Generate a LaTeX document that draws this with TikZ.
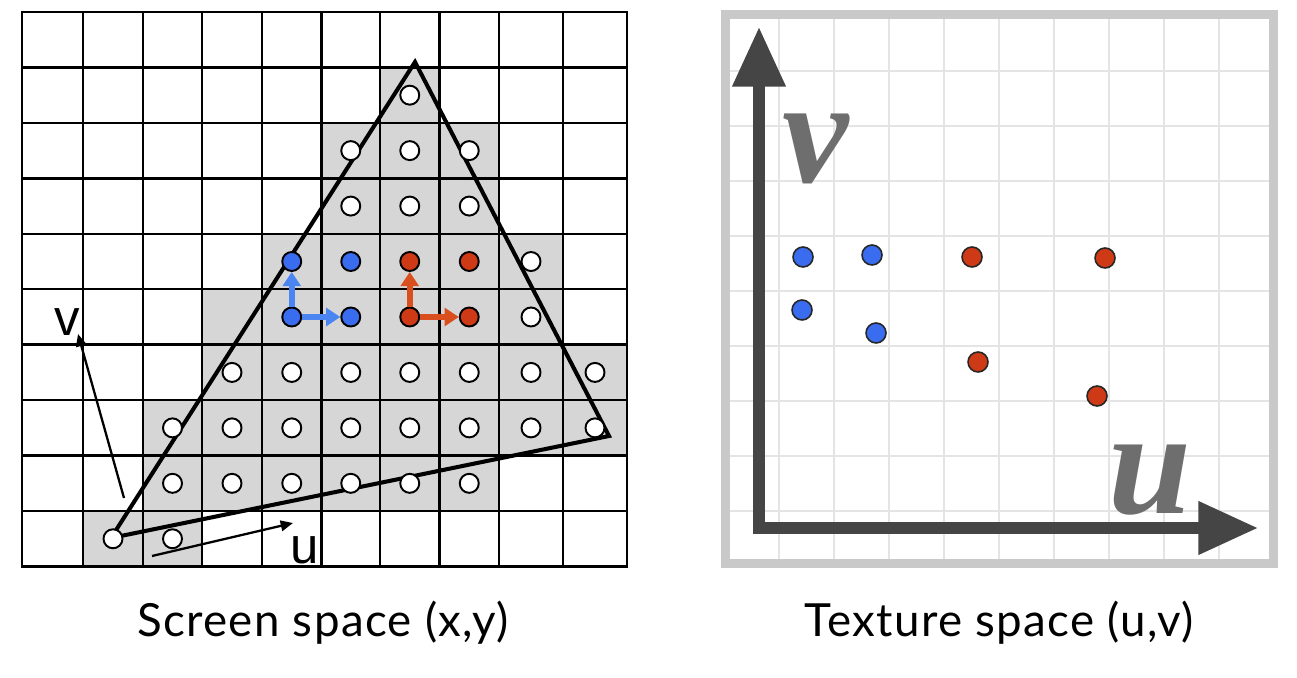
\documentclass[tikz,border=0pt]{standalone}
\usepackage{fontspec}
\newfontfamily\capfont{Lato}[LetterSpace=3]
\newfontfamily\markfont{Liberation Sans}
\newfontfamily\axisfont{Liberation Serif}
\usetikzlibrary{arrows.meta}
\definecolor{cellgray}{HTML}{D6D6D6}
\definecolor{dotblue}{HTML}{3A6CF0}
\definecolor{dotred}{HTML}{CF3A16}
\definecolor{arrowblue}{HTML}{4A85F2}
\definecolor{arrowred}{HTML}{D9501E}
\definecolor{axisgray}{HTML}{454545}
\definecolor{lettergray}{HTML}{6E6E6E}
\definecolor{framegray}{HTML}{C9C9C9}
\definecolor{finegray}{HTML}{E4E4E4}

\begin{document}
\begin{tikzpicture}[x=0.02cm, y=-0.02cm,
    gridline/.style={line width=1.4pt, line cap=rect},
    edge/.style={line width=2.3pt},
    vec/.style={line width=1.3pt, -{Triangle[length=7pt,width=6pt]}},
    flow/.style={line width=3.2pt, -{Triangle[length=8pt,width=10pt]}},
    sample/.style={circle, draw=black, line width=1.1pt, fill=white, minimum size=0.38cm, inner sep=0pt},
    tsample/.style={circle, draw=black!85, line width=0.9pt, minimum size=0.4cm, inner sep=0pt},
    veclabel/.style={font=\markfont\fontsize{29}{29}\selectfont, inner sep=0pt, anchor=base},
    bigletter/.style={font=\axisfont\bfseries\itshape\fontsize{85}{85}\selectfont, text=lettergray, inner sep=0pt, anchor=base},
    caption/.style={font=\capfont\fontsize{26}{26}\selectfont, inner sep=0pt, anchor=base},
    axis/.style={axisgray, line width=6.3pt, {Triangle[length=34pt,width=29pt]}-{Triangle[length=34pt,width=29pt]}},
]
\fill[white] (0,0) rectangle (1297,678);

% screen space
\foreach \j/\xa/\xb in {1/380/439.5, 2/321.5/499, 3/321.5/499, 4/262/563, 5/202/563, 6/202/627, 7/143/627, 8/143/499, 9/83/202}
    \fill[cellgray] (\xa,{12+55.45*\j}) rectangle (\xb,{12+55.45*(\j+1)});
\foreach \x in {22,83,143,202,262,321.5,380,439.5,499,563,627}
    \draw[gridline] (\x,12) -- (\x,566.5);
\foreach \j in {0,...,10}
    \draw[gridline] (22,{12+55.45*\j}) -- (627,{12+55.45*\j});

\coordinate (P0) at (111,538);
\coordinate (P1) at (415,62);
\coordinate (P2) at (609,436);
\draw[edge] (P0) -- (P1) -- (P2) -- cycle;

\coordinate (vtail) at (124,498);
\coordinate (vhead) at (78,334);
\coordinate (utail) at (152,556);
\coordinate (uhead) at (293,523);
\draw[vec] (vtail) -- (vhead);
\draw[vec] (utail) -- (uhead);
\node[veclabel] (vmark) at (67,336) {v};
\node[veclabel] (umark) at (305,563) {u};

\foreach \j/\cs in {1/{6}, 2/{5,6,7}, 3/{5,6,7}, 4/{8}, 5/{8}, 6/{3,...,9}, 7/{2,...,9}, 8/{2,...,7}, 9/{1,2}}
    \foreach \c in \cs {
        \pgfmathsetmacro\cx{{52.5,113,172.5,232,291.75,350.75,409.75,469.25,531,595}[\c]}
        \node[sample] (s\j\c) at (\cx,{12+55.45*(\j+0.5)}) {};
    }
\node[sample, fill=dotblue] (sb1) at (291.75,261.5) {};
\node[sample, fill=dotblue] (sb2) at (350.75,261.5) {};
\node[sample, fill=dotblue] (sb3) at (291.75,317) {};
\node[sample, fill=dotblue] (sb4) at (350.75,317) {};
\node[sample, fill=dotred] (sr1) at (409.75,261.5) {};
\node[sample, fill=dotred] (sr2) at (469.25,261.5) {};
\node[sample, fill=dotred] (sr3) at (409.75,317) {};
\node[sample, fill=dotred] (sr4) at (469.25,317) {};
\draw[flow, arrowblue] (sb3) -- (sb1);
\draw[flow, arrowblue] (sb3) -- (sb4);
\draw[flow, arrowred] (sr3) -- (sr1);
\draw[flow, arrowred] (sr3) -- (sr4);

\node[caption] (scap) at (323,636) {Screen space (x,y)};

% texture space
\foreach \k in {0,...,8} {
    \draw[finegray, line width=1.1pt] ({779+55*\k},19) -- ({779+55*\k},559);
    \draw[finegray, line width=1.1pt] (730,{71+55*\k}) -- (1269,{71+55*\k});
}
\draw[framegray, line width=5.1pt] (725.5,14.5) rectangle (1273.5,563.5);

\coordinate (vtip) at (759,27);
\coordinate (origin) at (759,528);
\coordinate (utip) at (1258,528);
\draw[axis] (vtip) -- (origin) -- (utip);
\node[bigletter] (vname) at (816,183) {v};
\node[bigletter] (uname) at (1150,513) {u};

\node[tsample, fill=dotblue] (tb1) at (803,257) {};
\node[tsample, fill=dotblue] (tb2) at (872,255) {};
\node[tsample, fill=dotblue] (tb3) at (802,310) {};
\node[tsample, fill=dotblue] (tb4) at (876,333) {};
\node[tsample, fill=dotred] (tr1) at (972,257) {};
\node[tsample, fill=dotred] (tr2) at (1105,258) {};
\node[tsample, fill=dotred] (tr3) at (978,362) {};
\node[tsample, fill=dotred] (tr4) at (1097,396) {};

\node[caption] (tcap) at (999,636) {Texture space (u,v)};
\end{tikzpicture}
\end{document}
